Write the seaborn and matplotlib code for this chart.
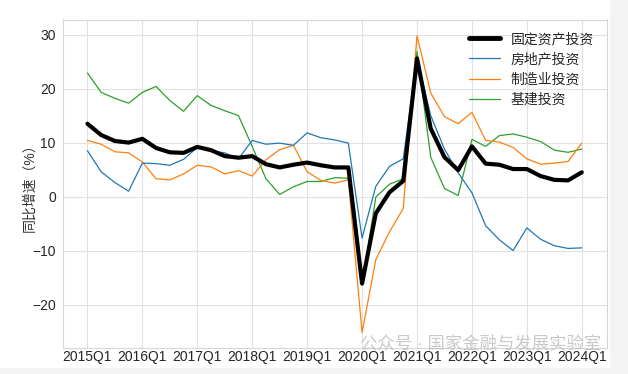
import numpy as np
import pandas as pd
import seaborn as sns
import matplotlib.pyplot as plt
from matplotlib.patches import Rectangle

# quarterly cumulative YoY growth, 2015Q1 .. 2024Q1
quarters = [f"{y}Q{q}" for y in range(2015, 2025) for q in range(1, 5)][:37]

fai = [13.5, 11.4, 10.3, 10.0, 10.7, 9.0, 8.2, 8.1,
       9.2, 8.6, 7.5, 7.2, 7.5, 6.0, 5.4, 5.9,
       6.3, 5.8, 5.4, 5.4, -16.1, -3.1, 0.8, 2.9,
       25.6, 12.6, 7.3, 4.9, 9.3, 6.1, 5.9, 5.1,
       5.1, 3.8, 3.1, 3.0, 4.5]
real_estate = [8.5, 4.6, 2.6, 1.0, 6.2, 6.1, 5.8, 6.9,
               9.1, 8.5, 8.1, 7.0, 10.4, 9.7, 9.9, 9.5,
               11.8, 10.9, 10.5, 9.9, -7.7, 1.9, 5.6, 7.0,
               25.6, 15.0, 8.8, 4.4, 0.7, -5.4, -8.0, -10.0,
               -5.8, -7.9, -9.1, -9.6, -9.5]
manufacturing = [10.4, 9.7, 8.3, 8.1, 6.4, 3.3, 3.1, 4.2,
                 5.8, 5.5, 4.2, 4.8, 3.8, 6.8, 8.7, 9.5,
                 4.6, 3.0, 2.5, 3.1, -25.2, -11.7, -6.5, -2.2,
                 29.8, 19.2, 14.8, 13.5, 15.6, 10.4, 10.1, 9.1,
                 7.0, 6.0, 6.2, 6.5, 9.9]
infrastructure = [22.9, 19.3, 18.2, 17.3, 19.3, 20.4, 17.8, 15.8,
                  18.7, 16.9, 15.9, 15.0, 9.3, 3.3, 0.4, 1.8,
                  2.8, 2.8, 3.5, 3.4, -16.4, -0.1, 2.3, 3.3,
                  26.9, 7.3, 1.5, 0.2, 10.6, 9.3, 11.3, 11.6,
                  11.0, 10.2, 8.6, 8.2, 8.8]

names = ["固定资产投资", "房地产投资", "制造业投资", "基建投资"]

df = pd.DataFrame({"idx": np.arange(len(quarters)), "quarter": quarters,
                   names[0]: fai, names[1]: real_estate,
                   names[2]: manufacturing, names[3]: infrastructure})
long = df.melt(id_vars=["idx", "quarter"], value_vars=names,
               var_name="series", value_name="growth")

sns.set_style("whitegrid", {"grid.color": "#e2e2e2", "axes.edgecolor": "#d6d6d6"})
plt.rcParams["font.family"] = ["Liberation Sans", "Noto Sans CJK SC", "DejaVu Sans"]
plt.rcParams["axes.unicode_minus"] = True

fig = plt.figure(figsize=(6.28, 3.74), dpi=100)
fig.patch.set_facecolor("#f3f3f3")
fig.patches.append(Rectangle((0, 1 - 367 / 374), 609 / 628, 367 / 374,
                             transform=fig.transFigure, color="white", zorder=-1))
ax = fig.add_axes([62.7 / 628, 1 - 348.3 / 374, (606.5 - 62.7) / 628, (348.3 - 19.5) / 374])

palette = {names[0]: "black", names[1]: "#1f77b4", names[2]: "#ff7f0e", names[3]: "#2ca02c"}
sizes = {names[0]: 3.0, names[1]: 0.9, names[2]: 0.9, names[3]: 0.9}
sns.lineplot(data=long, x="idx", y="growth", hue="series", size="series",
             sizes=sizes, palette=palette, hue_order=names[::-1], ax=ax, legend=False)
# keep black line on top
for ln in ax.lines:
    if ln.get_color() == "black":
        ln.set_zorder(5)

ax.set_xlim(-1.8, 37.8)
ax.set_ylim(-28.1, 32.8)
ax.set_xticks(df["idx"][::4])
ax.set_xticklabels(df["quarter"][::4])
ax.set_yticks([-20, -10, 0, 10, 20, 30])
ax.tick_params(axis="both", labelsize=10, colors="#262626", length=0)
ax.tick_params(axis="x", pad=1)
ax.tick_params(axis="y", pad=5)
ax.set_xlabel("")
ax.set_ylabel("同比增速（%）", fontsize=10, color="#333333", labelpad=-3)

handles = [plt.Line2D([], [], color=palette[n], lw=sizes[n] if n != names[0] else 3.5) for n in names]
ax.legend(handles, names, loc="upper right", frameon=False, fontsize=10,
          handlelength=2.2, labelspacing=0.45)

# platform watermark, drawn faint like in the source image
fig.text(360 / 628, 1 - 343 / 374, "公众号 · 国家金融与发展实验室", fontsize=12.5,
         color="#bdbdbd", alpha=0.8, va="center", ha="left")

fig.savefig("out.png", dpi=100)
